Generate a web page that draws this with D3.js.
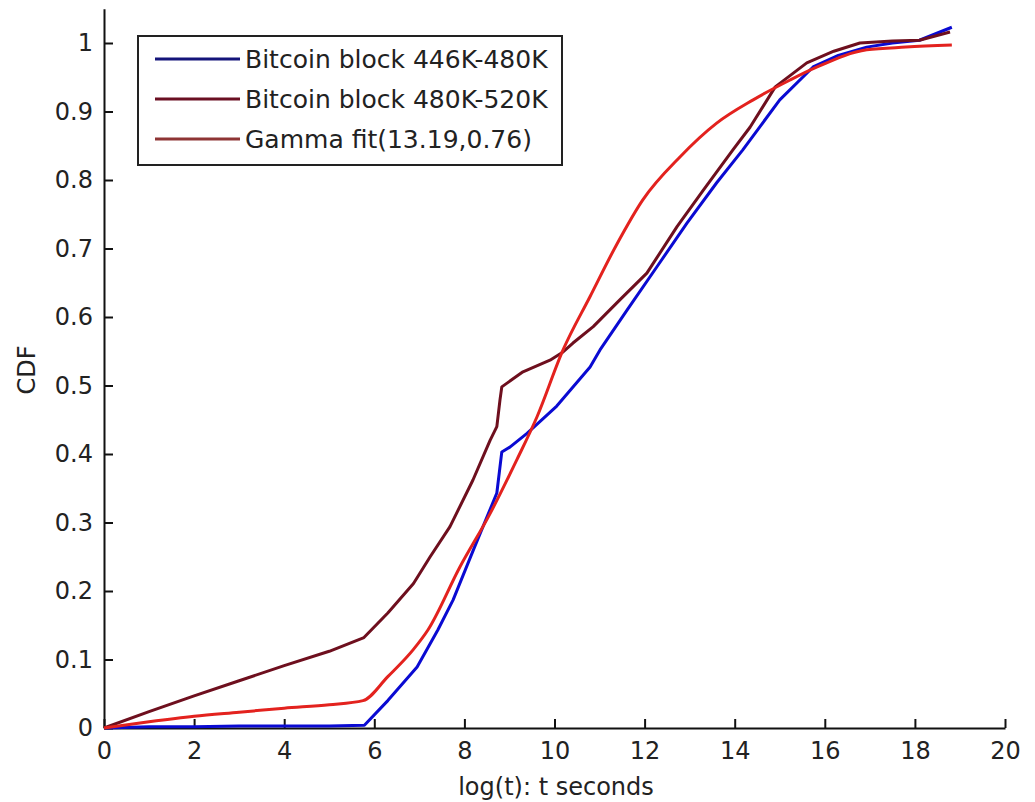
<!DOCTYPE html>
<html>
<head>
<meta charset="utf-8">
<script src="https://cdn.jsdelivr.net/npm/d3@7"></script>
<style>
  body { margin: 0; background: #fff; }
  svg text { font-family: "DejaVu Sans", sans-serif; fill: #222; }
</style>
</head>
<body>
<svg id="chart"></svg>
<script>
const width = 1035;
const height = 802;

// Series data (x = log(t), y = CDF)
const blueX = [0, 1, 2, 3, 4, 5, 5.78, 6.3, 6.95, 7.41, 7.75, 8.2, 8.72, 8.83, 9.01, 9.39, 10.05, 10.79, 11.01, 11.61, 12.27, 12.94, 13.6, 14.18, 15.0, 15.74, 16.3, 16.93, 17.5, 18.1, 18.82];
const blueY = [0, 0.002, 0.002, 0.003, 0.003, 0.003, 0.004, 0.04, 0.089, 0.143, 0.187, 0.26, 0.343, 0.403, 0.41, 0.43, 0.47, 0.527, 0.552, 0.61, 0.673, 0.737, 0.796, 0.844, 0.917, 0.965, 0.982, 0.994, 1.0, 1.004, 1.023];

const darkX = [0, 1, 2, 3, 4, 5, 5.77, 6.3, 6.87, 7.24, 7.68, 8.19, 8.57, 8.72, 8.79, 8.83, 9.3, 9.9, 10.19, 10.41, 10.86, 11.45, 12.05, 12.72, 13.3, 13.96, 14.34, 14.9, 15.6, 16.2, 16.78, 17.5, 18.1, 18.78];
const darkY = [0, 0.024, 0.047, 0.069, 0.091, 0.112, 0.132, 0.168, 0.211, 0.25, 0.294, 0.362, 0.42, 0.44, 0.479, 0.498, 0.52, 0.537, 0.549, 0.562, 0.586, 0.625, 0.664, 0.732, 0.785, 0.844, 0.877, 0.936, 0.971, 0.988, 1.0, 1.003, 1.004, 1.016];

const gammaX = [0, 1, 2, 3, 4, 5, 5.75, 6.3, 6.86, 7.19, 7.9, 8.57, 9.16, 9.61, 10.19, 10.79, 11.39, 11.96, 12.79, 13.6, 14.41, 15.23, 15.83, 16.93, 17.8, 18.82];
const gammaY = [0, 0.009, 0.017, 0.023, 0.029, 0.034, 0.04, 0.075, 0.114, 0.143, 0.235, 0.313, 0.391, 0.454, 0.552, 0.63, 0.707, 0.771, 0.834, 0.883, 0.917, 0.946, 0.965, 0.99, 0.994, 0.997];

const seriesNames = ["Bitcoin block 446K-480K", "Bitcoin block 480K-520K", "Gamma fit(13.19,0.76)"];
const seriesColors = ["#0a0ad2", "#6e0f1e", "#e3221e"];
const legendColors = ["#14147a", "#6a0f22", "#8e3434"];

const xTicks = d3.range(0, 21, 2);
const yTicks = d3.range(0, 11).map(d => d / 10);

const svg = d3.select("#chart")
  .attr("width", width)
  .attr("height", height);

// Scales
const x = d3.scaleLinear().domain([0, 20]).range([104, 1005]);
const y = d3.scaleLinear().domain([0, 1.05]).range([728, 728 - 1.05 * 685]);

// Axes (ticks point inward like the matlab figure)
const xAxis = d3.axisBottom(x)
  .tickValues(xTicks)
  .tickSizeInner(-9)
  .tickSizeOuter(0)
  .tickPadding(14)
  .tickFormat(d3.format("d"));

const yAxis = d3.axisLeft(y)
  .tickValues(yTicks)
  .tickSizeInner(-9)
  .tickSizeOuter(0)
  .tickPadding(11)
  .tickFormat(d => d === 0 ? "0" : d === 1 ? "1" : d3.format(".1f")(d));

const gx = svg.append("g")
  .attr("transform", `translate(0, ${y(0)})`)
  .call(xAxis);

const gy = svg.append("g")
  .attr("transform", `translate(${x(0)}, 0)`)
  .call(yAxis);

[gx, gy].forEach(g => {
  g.selectAll("path.domain").attr("stroke", "#111").attr("stroke-width", 2);
  g.selectAll(".tick line").attr("stroke", "#111").attr("stroke-width", 2);
  g.selectAll(".tick text")
    .attr("font-family", "DejaVu Sans, sans-serif")
    .attr("font-size", 24)
    .attr("fill", "#222");
});

// Lines - data curves are piecewise, the gamma fit is smooth
const line = d3.line()
  .x(d => x(d[0]))
  .y(d => y(d[1]));

const smoothLine = d3.line()
  .x(d => x(d[0]))
  .y(d => y(d[1]))
  .curve(d3.curveMonotoneX);

const series = [
  d3.zip(blueX, blueY),
  d3.zip(darkX, darkY),
  d3.zip(gammaX, gammaY)
];

svg.append("g")
  .selectAll("path")
  .data(series)
  .enter()
  .append("path")
  .attr("d", (d, i) => i === 2 ? smoothLine(d) : line(d))
  .attr("fill", "none")
  .attr("stroke", (d, i) => seriesColors[i])
  .attr("stroke-width", 3)
  .attr("stroke-linejoin", "round");

// Axis labels
svg.append("text")
  .attr("x", 556)
  .attr("y", 795)
  .attr("text-anchor", "middle")
  .attr("font-size", 24)
  .text("log(t): t seconds");

svg.append("text")
  .attr("transform", `translate(35, 370) rotate(-90)`)
  .attr("text-anchor", "middle")
  .attr("font-size", 24)
  .text("CDF");

// Legend
const legend = svg.append("g").attr("transform", "translate(138, 36)");

legend.append("rect")
  .attr("width", 424)
  .attr("height", 129)
  .attr("fill", "#fff")
  .attr("stroke", "#222")
  .attr("stroke-width", 2);

const rows = legend.selectAll("g.row")
  .data(seriesNames)
  .enter()
  .append("g")
  .attr("class", "row")
  .attr("transform", (d, i) => `translate(0, ${23 + i * 40})`);

rows.append("line")
  .attr("x1", 17)
  .attr("x2", 102)
  .attr("stroke", (d, i) => legendColors[i])
  .attr("stroke-width", 3);

rows.append("text")
  .attr("x", 107)
  .attr("dy", "0.36em")
  .attr("font-size", 25)
  .text(d => d);
</script>
</body>
</html>
